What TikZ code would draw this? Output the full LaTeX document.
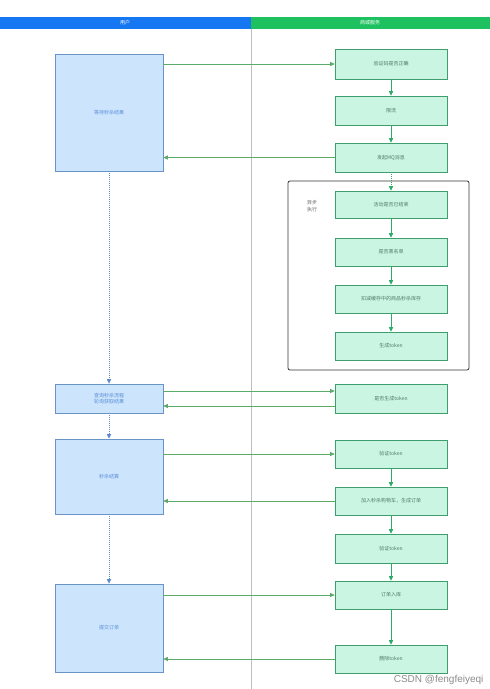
\documentclass[tikz,border=0pt]{standalone}
\usepackage{fontspec}
\newfontfamily\cjk{Noto Sans CJK SC}
\usetikzlibrary{arrows.meta}
\definecolor{hblue}{HTML}{1677F2}
\definecolor{hgreen}{HTML}{1DC15F}
\definecolor{bfill}{HTML}{CCE4FC}
\definecolor{bdraw}{HTML}{6A93C8}
\definecolor{btext}{HTML}{5A8FD8}
\definecolor{gfill}{HTML}{C9F5E2}
\definecolor{gdraw}{HTML}{3F9E6E}
\definecolor{gtext}{HTML}{4E7A66}
\definecolor{harr}{HTML}{5BAA68}
\definecolor{varr}{HTML}{2EAA66}
\definecolor{darr}{HTML}{5A8CCB}
\tikzset{
  every node/.style={font=\cjk\fontsize{5}{6.5}\selectfont},
  ubox/.style={draw=bdraw, fill=bfill, line width=0.6pt, text=btext, minimum width=108pt, inner sep=0pt, align=center},
  sbox/.style={draw=gdraw, fill=gfill, line width=0.6pt, text=gtext, minimum width=112pt, minimum height=28pt, inner sep=0pt, align=center},
  harrow/.style={draw=harr, line width=0.7pt, -{Triangle[length=4.5pt,width=4pt]}},
  varrow/.style={draw=varr, line width=0.9pt, -{Triangle[length=4.5pt,width=4pt]}},
  darrow/.style={draw=darr, line width=1pt, dash pattern=on 1pt off 1pt, -{Triangle[length=4.5pt,width=4pt]}},
  gdarrow/.style={draw=varr, line width=1pt, dash pattern=on 1pt off 1pt, -{Triangle[length=4.5pt,width=4pt]}},
}
\begin{document}
\begin{tikzpicture}[x=1pt,y=-1pt]
\useasboundingbox (0,0) rectangle (490,689);
\fill[white] (0,0) rectangle (490,689);
% header
\fill[hblue] (0,17) rectangle (251,29);
\fill[hgreen] (251,17) rectangle (490,29);
\node[text=white] (h1) at (125,23) {用户};
\node[text=white] (h2) at (370,23) {商城服务};
\draw[gray!50, line width=0.5pt] (251,29) -- (251,689);
% async frame
\draw[black!80, line width=0.8pt, rounded corners=2pt] (288,181) rectangle (469,370);
\node[text=black!60, align=left] (asy) at (312,206) {异步\\执行};
% user boxes
\node[ubox, minimum height=117pt] (u1) at (109,112.5) {等待秒杀结果};
\node[ubox, minimum height=29pt] (u2) at (109,398.5) {查询秒杀流程\\轮询获取结果};
\node[ubox, minimum height=75pt] (u3) at (109,476.5) {秒杀结算};
\node[ubox, minimum height=88pt] (u4) at (109,628) {提交订单};
% service boxes
\node[sbox, minimum height=30pt] (s1) at (391,64) {验证码是否正确};
\node[sbox, minimum height=29pt] (s2) at (391,110.5) {限流};
\node[sbox, minimum height=29pt] (s3) at (391,157.5) {发起MQ消息};
\node[sbox, minimum height=27pt] (s4) at (391,204.5) {活动是否已结束};
\node[sbox, minimum height=28pt] (s5) at (391,252) {是否黑名单};
\node[sbox, minimum height=28pt] (s6) at (391,299) {扣减缓存中的商品秒杀库存};
\node[sbox, minimum height=28pt] (s7) at (391,346) {生成token};
\node[sbox, minimum height=29pt] (s8) at (391,398.5) {是否生成token};
\node[sbox, minimum height=28pt] (s9) at (391,454) {验证token};
\node[sbox, minimum height=28pt] (s10) at (391,501) {加入秒杀购物车，生成订单};
\node[sbox, minimum height=29pt] (s11) at (391,548.5) {验证token};
\node[sbox, minimum height=28pt] (s12) at (391,595) {订单入库};
\node[sbox, minimum height=28pt] (s13) at (391,659) {删除token};
% vertical service arrows
\draw[varrow] (s1) -- (s2);
\draw[varrow] (s2) -- (s3);
\draw[gdarrow] (s3) -- (s4);
\draw[varrow] (s4) -- (s5);
\draw[varrow] (s5) -- (s6);
\draw[varrow] (s6) -- (s7);
\draw[varrow] (s9) -- (s10);
\draw[varrow] (s10) -- (s11);
\draw[varrow] (s11) -- (s12);
\draw[varrow] (s12) -- (s13);
% user dotted arrows
\draw[darrow] (u1) -- (u2);
\draw[darrow] (u2) -- (u3);
\draw[darrow] (u3) -- (u4);
% horizontal arrows
\draw[harrow] (u1.east |- s1.west) -- (s1.west);
\draw[harrow] (s3.west) -- (s3.west -| u1.east);
\draw[harrow] ([yshift=7.5pt]u2.east) -- ([yshift=7.5pt]u2.east -| s8.west);
\draw[harrow] ([yshift=-7.5pt]s8.west) -- ([yshift=-7.5pt]s8.west -| u2.east);
\draw[harrow] (u3.east |- s9.west) -- (s9.west);
\draw[harrow] (s10.west) -- (s10.west -| u3.east);
\draw[harrow] (u4.east |- s12.west) -- (s12.west);
\draw[harrow] (s13.west) -- (s13.west -| u4.east);
% watermark
\node[text=black!45, font=\fontspec{Liberation Sans}\fontsize{10}{11}\selectfont, anchor=east] (wm) at (487,680) {CSDN @fengfeiyeqi};
\end{tikzpicture}
\end{document}
